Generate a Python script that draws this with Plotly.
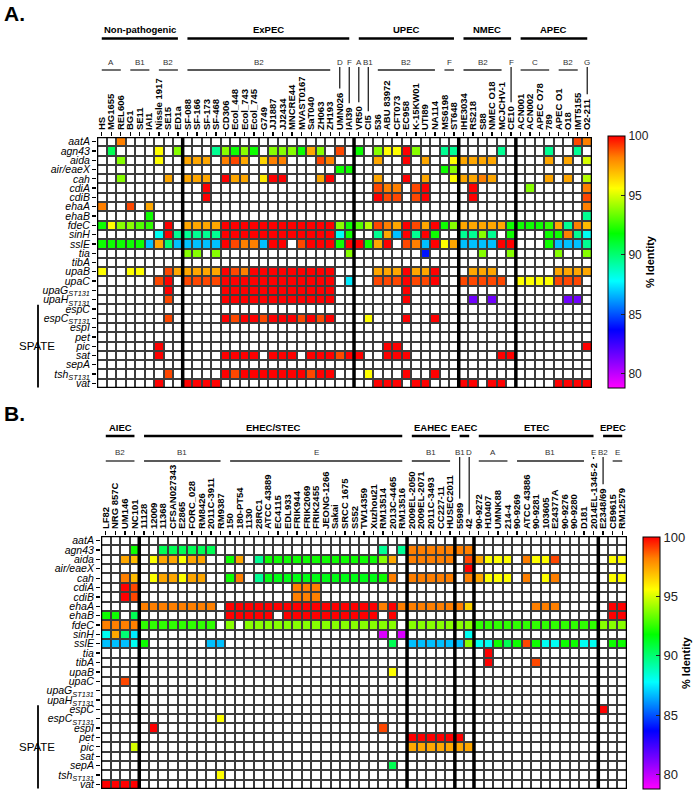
import plotly.graph_objects as go

_ = None
W, H = 696, 792
FONT = "Liberation Sans, Arial, sans-serif"

# ---------------- shared ----------------
genes = ["aatA", "agn43", "aida", "air/eaeX", "cah", "cdiA", "cdiB", "ehaA", "ehaB", "fdeC",
         "sinH", "sslE", "tia", "tibA", "upaB", "upaC", "upaG|ST131", "upaH|ST131", "espC",
         "espC|ST131", "espI", "pet", "pic", "sat", "sepA", "tsh|ST131", "vat"]
colorbar_ticks = [80, 85, 90, 95, 100]
identity_min, identity_max = 78.8, 100

# ---------------- panel A ----------------
strains_a = ["HS", "MG1655", "REL606", "BG1", "SE11", "IAI1", "Nissle 1917", "SE15", "ED1a",
             "SF-088", "SF-166", "SF-173", "SF-468", "CD306", "Ecol_448", "Ecol_743", "Ecol_745", "G749",
             "JJ1887", "JJ2434", "MNCRE44", "MVAST0167", "SaT040", "ZH063", "ZH193", "UMN026", "IAI39",
             "VR50", "CI5", "536", "ABU 83972", "CFT073", "EC958", "K-15KW01", "UTI89", "NA114", "MS6198", "ST648",
             "IHE3034", "RS218", "S88", "NMEC O18", "MCJCHV-1", "CE10",
             "ACN001", "ACN002", "APEC O78", "789", "APEC O1", "O18", "IMT5155", "O2-211"]
groups_a = [("Non-pathogenic", 9), ("ExPEC", 18), ("UPEC", 11), ("NMEC", 6), ("APEC", 8)]
phylo_a = [("A", 3), ("B1", 3), ("B2", 3), ("B2", 16), ("D", 1), ("F", 1), ("A", 1), ("B1", 1),
           ("B2", 7), ("F", 2), ("B2", 5), ("F", 1), ("C", 4), ("B2", 3), ("G", 1)]

A_aatA = [_,_,98.2,_,_,_,_,_,_, _,_,_,_,_,_,_,_,_,_,_,_,_,_,_,_,_,_, _,_,_,_,_,_,_,_,_,_,_, _,_,_,_,_,_, _,_,_,_,_,_,99,98.2]
A_agn43 = [_,90.5,_,_,_,_,95.6,_,93.8, _,_,_,89.5,93.8,92,93.8,92,_,93.8,93.8,93.8,92,97.4,93.8,_,99,_, 92,_,93.8,95.6,95.6,100,93.8,_,_,89.5,89.5, _,_,_,_,89.5,_, _,_,_,89.5,_,_,89.5,_]
A_aida = [_,_,93.8,_,_,_,95.6,_,_, 97.4,97.4,97.4,_,98.2,99,97.4,_,96.5,98.2,98.2,_,_,_,99,98.2,_,_, _,_,97.4,_,_,100,_,97.4,_,_,95.6, 97.4,97.4,97.4,97.4,_,_, _,_,_,97.4,_,97.4,_,95]
A_air = [_,_,_,_,_,_,_,_,_, _,_,_,_,_,_,_,_,_,_,_,_,_,_,_,_,92,92, _,_,_,_,_,_,_,_,_,92,93.8, _,_,_,_,_,_, _,_,_,_,_,_,_,_]
A_cah = [_,_,93.8,_,_,_,_,97.4,_, 97.4,97.4,97.4,_,100,97.4,97.4,_,96,100,100,_,_,_,97.4,100,_,_, _,_,97.4,_,_,100,_,97.4,_,_,95.6, 97.4,97.4,98.2,97.4,_,_, _,_,_,97.4,_,97.4,_,94.5]
A_cdiA = [_,_,_,_,_,_,_,_,_, _,_,100,_,_,_,_,_,_,_,_,_,_,_,_,_,_,_, _,_,99,98.2,98.2,_,99,100,_,_,_, _,100,_,_,_,_, _,93.8,_,_,_,_,_,98.2]
A_cdiB = [_,_,_,_,_,_,_,_,_, _,_,100,_,_,_,_,_,_,_,_,_,_,_,_,_,_,_, _,_,100,99,99,_,99,100,_,_,_, _,100,_,_,_,_, _,_,_,_,_,_,_,99]
A_ehaA = [98.2,_,_,99,_,97.4,_,_,_, _,_,_,_,_,_,_,_,_,_,_,_,_,_,_,_,_,_, _,_,_,_,_,_,_,_,_,_,_, _,_,_,_,_,_, _,_,_,_,_,_,_,98.2]
A_ehaB = [_,_,_,_,_,92,_,_,_, _,_,_,_,_,_,_,_,_,_,_,_,_,_,_,_,_,_, _,_,_,_,_,_,_,_,_,_,_, _,_,_,_,_,_, _,_,_,_,_,_,_,89.5]
A_fdeC = [92,95.6,93.8,93.8,93,92.5,_,100,_, 97.4,97.4,97.4,97.4,100,100,100,100,100,100,100,100,100,100,100,100,93.8,92, 93,94.5,99,98.2,97.4,100,99,97.4,100,92,93.8, 97.4,97.4,97.4,97.4,97.4,92, 92,92,92,92.5,97.4,89.5,98.2,97]
A_sinH = [_,_,_,_,_,_,88,100,89.5, 89.5,89.5,89.5,89.5,100,100,100,100,100,100,100,100,100,100,100,100,88,92, _,_,89.5,97.4,86.8,100,89.5,100,92,_,_, 89.5,89.5,93.8,89.5,_,92, _,_,_,92,92,98.2,89.5,88]
A_sslE = [92,92,92,92,92,86.8,97.4,90,86.8, 86.8,86.8,86.8,86.8,100,99,98.2,98.2,86.8,100,100,_,99,100,100,100,92,100, 100,92,97.4,100,_,99,98.2,86.8,100,95.6,97.4, 86.8,86.8,86.8,86.8,100,100, _,_,_,92,86.8,86.8,86.8,89.5]
A_tia = [_,_,_,_,_,_,_,_,_, 93.8,93.8,_,93.8,_,_,_,_,_,_,_,_,_,_,_,_,_,93.8, _,_,_,_,_,_,_,84,_,_,_, _,_,93.8,_,_,93.8, _,_,_,_,93.8,_,_,93.8]
A_tibA = [_,_,_,_,_,_,_,_,_, _,_,_,_,_,_,_,_,_,_,_,_,_,_,_,_,_,_, _,_,_,_,_,_,_,_,_,_,_, _,_,_,_,_,_, _,_,_,_,_,_,_,_]
A_upaB = [95.6,_,_,95.6,95.6,_,_,99,97.4, 97.4,97.4,97.4,97.4,100,99,98.2,100,100,100,100,100,100,100,100,100,_,_, _,_,97.4,97.4,97.4,100,97.4,97.4,100,_,_, _,97.4,97.4,97.4,_,_, _,_,_,_,97.4,97.4,97.4,97.4]
A_upaC = [_,_,_,_,_,_,99,100,_, 99,99,99,99,100,100,100,100,100,100,100,100,100,100,100,100,_,87.5, _,_,99,99,99,100,99,99,100,_,_, 99,99,99,99,99,_, 95.6,95.6,95.6,95.6,99,99,99,_]
A_upaG = [_,_,_,_,_,_,_,100,_, _,_,_,_,100,100,100,100,100,100,100,100,100,100,100,100,_,_, _,_,_,_,_,100,_,_,_,_,_, _,_,_,_,_,_, _,_,_,_,_,_,_,_]
A_upaH = [_,_,_,_,_,_,_,99,_, _,_,_,_,100,100,100,100,100,100,100,100,100,100,100,100,_,_, _,_,_,_,_,100,_,_,_,_,_, _,81.5,_,81.5,_,_, _,_,_,_,_,81.5,81.5,_]
A_espC = [_,_,_,_,_,_,_,_,_, _,_,_,_,_,_,_,_,_,_,_,_,_,_,_,_,_,_, _,_,_,_,_,_,_,_,_,_,_, _,_,_,_,_,_, _,_,_,_,_,_,_,_]
A_espC_st = [_,_,_,_,_,_,_,99,_, _,_,_,_,100,99,100,100,99,100,100,100,99,100,99,100,_,_, _,95.6,_,_,_,100,_,_,100,_,_, _,_,_,_,_,_, _,_,_,_,_,_,_,_]
A_espI = [_,_,_,_,_,_,_,_,_, _,_,_,_,_,_,_,_,_,_,_,_,_,_,_,_,_,_, _,_,_,_,_,_,_,_,_,_,_, _,_,_,_,_,_, _,_,_,_,_,_,_,_]
A_pet = [_,_,_,_,_,_,_,_,_, _,_,_,_,_,_,_,_,_,_,_,_,_,_,_,_,_,_, _,_,_,_,_,_,_,_,_,_,_, _,_,_,_,_,_, _,_,_,_,_,_,_,_]
A_pic = [_,_,_,_,_,_,100,_,_, _,_,_,_,_,_,_,_,_,_,_,_,_,_,_,_,_,_, _,_,_,100,100,_,_,_,_,_,_, _,_,_,_,_,_, _,_,_,_,_,_,_,100]
A_sat = [_,_,_,_,_,_,100,_,_, _,_,_,_,100,100,100,100,_,100,100,100,_,100,100,100,99,100, 100,_,_,100,100,100,_,_,_,_,_, _,_,_,_,100,100, _,_,_,_,_,_,_,_]
A_sepA = [_,_,_,_,_,_,_,_,_, _,_,_,_,_,_,_,_,_,_,_,_,_,_,_,_,_,_, _,_,_,_,_,_,_,_,_,_,_, _,_,_,_,_,_, _,_,_,_,_,_,_,_]
A_tsh = [_,_,_,_,_,_,_,99,_, _,_,_,_,100,99,100,100,100,100,100,100,100,99,100,100,_,_, _,95.6,_,_,_,100,_,_,100,_,_, _,_,_,_,_,_, _,_,_,_,_,_,_,_]
A_vat = [_,_,_,_,_,_,100,_,_, 100,100,100,100,_,_,_,_,_,_,_,_,_,_,_,_,_,_, _,_,100,100,100,_,100,100,_,_,_, 100,100,_,100,100,_, _,_,_,_,100,100,100,100]

# ---------------- panel B ----------------
strains_b = ["LF82", "NRG 857C", "UM146", "NC101",
             "11128", "12009", "11368", "CFSAN027343", "E2865", "FORC_028", "RM8426", "2011C-3911", "RM9387",
             "150", "180-PT54", "1130", "28RC1", "ATCC 43889", "EC4115", "EDL933", "FRIK944", "FRIK2069",
             "FRIK2455", "JEONG-1266", "Sakai", "SRCC 1675", "SS52", "TW14359", "Xuzhou21", "RM13514",
             "2013C-4465", "RM13516",
             "2009EL-2050", "2009EL-2071", "2011C-3493", "CC227-11", "HUSEC2011",
             "55989", "42",
             "90-9272", "H10407", "UMNK88", "214-4", "90-9269", "ATCC 43886", "90-9281", "103605", "E24377A",
             "90-9276", "90-9280", "D181", "2014EL-1345-2",
             "E2348/69", "CB9615", "RM12579"]
groups_b = [("AIEC", 4), ("EHEC/STEC", 28), ("EAHEC", 5), ("EAEC", 2), ("ETEC", 13), ("EPEC", 3)]
phylo_b = [("B2", 4), ("B1", 9), ("E", 19), ("B1", 5), ("B1", 1), ("D", 1), ("A", 4), ("B1", 8),
           ("E", 1), ("B2", 1), ("E", 2)]

B_aatA = [_,_,_,_, _,_,_,_,_,_,_,_,_, _,_,_,_,_,_,_,_,_,_,_,_,_,_,_,_,_,_,_, _,_,_,_,_, _,_, _,_,_,_,_,_,_,_,_,_,_,_,_, _,_,_]
B_agn43 = [_,_,_,92, _,_,90.5,90.5,90.5,90.5,90.5,90.5,_, _,_,_,_,_,_,_,_,_,_,_,_,_,_,_,_,89.5,_,89.5, 98.2,98.2,98.2,98.2,98.2, 98.2,98.2, _,_,_,_,_,_,_,_,_,_,_,_,_, _,_,_]
B_aida = [_,_,97.4,97, _,95.6,97.4,97.4,95.6,97.4,97.4,_,_, 92,97.4,_,89.5,92,92,92,92,92,92,92,92,92,92,92,92,93.8,97.4,_, 98.2,98.2,98.2,98.2,98.2, _,99, 97.4,95.6,95.6,95.6,_,98.2,95.6,95.6,99,_,_,_,_, _,95.6,95.6]
B_air = [_,_,_,_, _,_,_,_,_,_,_,_,_, _,_,_,_,_,_,_,_,_,_,_,_,_,_,_,_,_,_,_, _,_,_,_,_, _,100, _,_,_,_,_,_,_,_,_,_,_,_,_, _,_,_]
B_cah = [_,_,98.2,97, _,95.6,97.4,97.4,95.6,97.4,97.4,_,_, 92,98.2,_,89.5,91.5,91.5,91.5,91.5,91.5,91.5,91.5,91.5,91.5,91.5,91.5,91.5,92,98.2,_, 98.2,98.2,98.2,98.2,98.2, _,98.2, 97.4,95.6,95.6,95.6,_,98.2,_,95.6,98.2,_,_,_,_, _,95.6,95.6]
B_cdiA = [_,_,100,99, _,_,_,_,_,_,_,_,_, _,_,_,_,_,_,_,98.2,98.2,98.2,_,_,_,_,_,_,_,_,_, _,_,_,_,_, _,_, _,_,_,_,_,_,_,_,_,_,_,_,_, _,_,_]
B_cdiB = [_,_,100,99, _,_,_,_,_,_,_,_,_, _,_,_,_,_,_,_,98.2,98.2,98.2,_,_,_,_,_,_,_,_,_, _,_,_,_,_, _,_, _,_,_,_,_,_,_,_,_,_,_,_,_, _,_,_]
B_ehaA = [_,_,_,_, 98.2,98.2,98.2,98.2,98.2,98.2,98.2,98.2,_, 100,100,100,100,100,100,100,100,100,100,100,100,100,100,100,100,98.2,100,98.2, 98.2,98.2,98.2,98.2,98.2, 98.2,96.5, _,_,_,_,_,_,98.2,98.2,98.2,_,_,_,_, _,100,100]
B_ehaB = [92,92,_,90.5, _,_,_,_,_,_,_,_,_, 100,100,100,100,100,_,100,100,100,100,100,100,100,100,100,100,_,100,_, _,_,_,_,_, _,_, _,_,_,_,_,_,_,_,_,_,_,_,_, _,100,100]
B_fdeC = [98.2,98.2,98.2,98.2, 92.5,92.5,92.5,92.5,92.5,92.5,92.5,92.5,_, 93.8,_,93.8,93.8,93.8,93.8,93.8,93.8,93.8,93.8,93.8,93.8,93.8,93.8,93.8,93.8,93.8,93.8,_, 93.8,93.8,93.8,93.8,93.8, 93.8,93.8, 92.5,92.5,92.5,92.5,92.5,92.5,92.5,92.5,92.5,92.5,92.5,92.5,92.5, 93.8,93.8,93.8]
B_sinH = [88,97.4,90,87.5, _,_,_,_,_,_,_,_,_, _,_,_,_,_,_,_,_,_,_,_,_,_,_,_,_,79.5,_,79.5, _,_,_,_,_, _,88, _,_,_,_,_,_,_,_,_,_,_,_,_, _,_,_]
B_sslE = [86.8,86.8,86.8,88, 92,_,_,_,_,_,_,86.8,86.8, _,_,_,_,_,_,_,_,_,_,_,_,_,_,_,_,_,90.5,_, 86.8,86.8,86.8,86.8,86.8, 86.8,93.8, 88,88,92,90.5,92,99,92,88,88,92,92,88,88, _,92,92]
B_tia = [_,_,_,_, _,_,_,_,_,_,_,_,_, _,_,_,_,_,_,_,_,_,_,_,_,_,_,_,_,_,_,_, _,_,_,_,_, _,_, _,100,_,_,_,_,_,_,_,_,_,_,_, _,_,_]
B_tibA = [_,_,_,_, _,_,_,_,_,_,_,_,_, _,_,_,_,_,_,_,_,_,_,_,_,_,_,_,_,_,_,_, _,_,_,_,_, _,_, _,100,_,_,_,_,99,_,_,_,_,_,_, _,_,_]
B_upaB = [_,_,_,_, _,_,_,_,_,_,_,_,_, _,_,_,_,_,_,_,_,_,_,_,_,_,_,_,_,_,95.6,_, _,_,_,_,_, _,_, _,_,_,_,_,_,_,_,_,_,_,_,_, _,_,_]
B_upaC = [_,_,99,_, _,_,_,_,_,_,_,_,_, _,_,_,_,_,_,_,_,_,_,_,_,_,_,_,_,_,_,_, _,_,_,_,_, _,_, _,_,_,_,_,_,_,_,_,_,_,_,_, _,_,_]
B_upaG = [_,_,_,_, _,_,_,_,_,_,_,_,_, _,_,_,_,_,_,_,_,_,_,_,_,_,_,_,_,_,_,_, _,_,_,_,_, _,_, _,_,_,_,_,_,_,_,_,_,_,_,_, _,_,_]
B_upaH = [_,_,_,_, _,_,_,_,_,_,_,_,_, _,_,_,_,_,_,_,_,_,_,_,_,_,_,_,_,_,_,_, _,_,_,_,_, _,_, _,_,_,_,_,_,_,_,_,_,_,_,_, _,_,_]
B_espC = [_,_,_,_, _,_,_,_,_,_,_,_,_, _,_,_,_,_,_,_,_,_,_,_,_,_,_,_,_,_,_,_, _,_,_,_,_, _,_, _,_,_,_,_,_,_,_,_,_,_,_,_, 100,_,_]
B_espC_st = [_,_,_,_, _,_,_,_,_,_,_,_,95.6, _,_,_,_,_,_,_,_,_,_,_,_,_,_,_,_,_,_,_, _,_,_,_,_, _,_, _,_,_,_,_,_,_,_,_,_,_,_,_, _,_,_]
B_espI = [_,_,_,_, _,100,_,_,_,_,_,_,_, _,_,_,_,_,_,_,_,_,_,_,_,_,_,_,_,99,_,_, _,_,_,_,_, _,_, _,_,_,_,_,_,_,_,_,_,_,_,_, _,_,_]
B_pet = [_,_,_,_, _,_,_,_,_,_,_,_,_, _,_,_,_,_,_,_,_,_,_,_,_,_,_,_,_,_,_,_, 100,100,100,100,100, 100,_, _,_,_,_,_,_,_,_,_,_,_,_,_, _,_,_]
B_pic = [_,_,_,95, _,_,_,_,_,_,_,_,_, _,_,_,_,_,_,_,_,_,_,_,_,_,_,_,_,_,_,_, 97.4,97.4,97.4,97.4,97.4, 97.4,97.4, _,_,_,_,_,_,_,_,_,_,_,_,_, _,_,_]
B_sat = [_,_,_,_, _,_,_,_,_,_,_,_,_, _,_,_,_,_,_,_,_,_,_,_,_,_,_,_,_,_,_,_, _,_,_,_,_, _,_, _,_,_,_,_,_,_,_,_,_,_,_,_, _,_,_]
B_sepA = [_,_,_,_, _,_,_,_,_,_,_,_,_, _,_,_,_,_,_,_,_,_,_,_,_,_,_,_,_,_,90.5,_, _,_,_,_,_, _,_, _,_,_,_,_,_,_,_,_,_,_,_,_, _,_,_]
B_tsh = [_,_,_,_, _,_,_,_,_,_,_,_,95.6, _,_,_,_,_,_,_,_,_,_,_,_,_,_,_,_,_,_,_, _,_,_,_,_, _,_, _,_,_,_,_,_,_,_,_,_,_,_,_, _,_,_]
B_vat = [100,100,100,100, _,_,_,_,_,_,_,_,_, _,_,_,_,_,_,_,_,_,_,_,_,_,_,_,_,_,_,_, _,_,_,_,_, _,_, _,_,_,_,_,_,_,_,_,_,_,_,_, _,_,_]

rows_a = [A_aatA, A_agn43, A_aida, A_air, A_cah, A_cdiA, A_cdiB, A_ehaA, A_ehaB, A_fdeC, A_sinH,
          A_sslE, A_tia, A_tibA, A_upaB, A_upaC, A_upaG, A_upaH, A_espC, A_espC_st, A_espI, A_pet,
          A_pic, A_sat, A_sepA, A_tsh, A_vat]
rows_b = [B_aatA, B_agn43, B_aida, B_air, B_cah, B_cdiA, B_cdiB, B_ehaA, B_ehaB, B_fdeC, B_sinH,
          B_sslE, B_tia, B_tibA, B_upaB, B_upaC, B_upaG, B_upaH, B_espC, B_espC_st, B_espI, B_pet,
          B_pic, B_sat, B_sepA, B_tsh, B_vat]

# ---------------- helpers ----------------
def px(x):
    return x / W

def py(y):
    return 1 - y / H

_CW = {**{c: 0.556 for c in "0123456789"}, " ": 0.278, "-": 0.333, "_": 0.556, "/": 0.278, ".": 0.278,
       "A": .722, "B": .722, "C": .722, "D": .722, "E": .667, "F": .611, "G": .778, "H": .722, "I": .278,
       "J": .556, "K": .722, "L": .611, "M": .833, "N": .722, "O": .778, "P": .667, "Q": .778, "R": .722,
       "S": .667, "T": .611, "U": .722, "V": .667, "W": .944, "X": .667, "Y": .667, "Z": .611}

def text_w(s, size):
    return sum(_CW.get(c, 0.556 if c not in "iljft" else 0.3) for c in s) * size

def gene_label(g):
    if "|" in g:
        a, b = g.split("|")
        return f"<i>{a}<sub>{b}</sub></i>"
    return f"<i>{g}</i>"

colorscale = [
    [0.0, "#ff00ff"],
    [(81.0 - identity_min) / (identity_max - identity_min), "#8a00ff"],
    [(83.7 - identity_min) / (identity_max - identity_min), "#0000ff"],
    [(87.8 - identity_min) / (identity_max - identity_min), "#00ffff"],
    [(91.8 - identity_min) / (identity_max - identity_min), "#00ff00"],
    [(95.6 - identity_min) / (identity_max - identity_min), "#ffff00"],
    [(98.2 - identity_min) / (identity_max - identity_min), "#ff8000"],
    [1.0, "#ff0000"],
]

fig = go.Figure()
shapes = []
annots = []

LABEL_SIZE = 9.5
panels = [
    dict(name="A.", strains=strains_a, rows=rows_a, groups=groups_a, phylo=phylo_a, xa="x", ya="y",
         left=97, right=592, top=137, bottom=388, cb_x=608, cb_top=136, cb_bot=388, cb_font=12,
         g_text=30, g_line=38.5, p_text=62, p_line=70, title_y=14),
    dict(name="B.", strains=strains_b, rows=rows_b, groups=groups_b, phylo=phylo_b, xa="x2", ya="y2",
         left=101, right=627, top=536, bottom=789, cb_x=643, cb_top=537, cb_bot=789, cb_font=13,
         g_text=427, g_line=436, p_text=452, p_line=461, title_y=413),
]

ng = len(genes)
for i, p in enumerate(panels):
    n = len(p["strains"])
    xs = list(range(n))
    ys = list(range(ng))
    fig.add_trace(go.Heatmap(
        z=[[0] * n for _r in range(ng)], x=xs, y=ys, xaxis=p["xa"], yaxis=p["ya"],
        colorscale=[[0, "white"], [1, "white"]], showscale=False, xgap=2, ygap=2, hoverinfo="skip"))
    fig.add_trace(go.Heatmap(
        z=p["rows"], x=xs, y=ys, xaxis=p["xa"], yaxis=p["ya"],
        zmin=identity_min, zmax=identity_max, colorscale=colorscale, xgap=2, ygap=2,
        hoverongaps=False,
        colorbar=dict(
            x=px(p["cb_x"]), xanchor="left", xpad=0, ypad=0,
            y=py(p["cb_top"]), yanchor="top", len=(p["cb_bot"] - p["cb_top"]) / H, lenmode="fraction",
            thickness=17, thicknessmode="pixels", outlinewidth=1, outlinecolor="black",
            tickvals=colorbar_ticks, ticks="inside", ticklen=4, tickcolor="#222",
            tickfont=dict(family=FONT, size=p["cb_font"], color="#222"),
            title=dict(text="<b>% Identity</b>", side="right",
                       font=dict(family=FONT, size=11, color="black")),
        )))
    axsuffix = "" if i == 0 else "2"
    fig.update_layout(**{
        "xaxis" + axsuffix: dict(
            domain=[px(p["left"]), px(p["right"])], anchor=p["ya"], side="top",
            range=[-0.5, n - 0.5], tickmode="array", tickvals=xs,
            ticktext=[f"<b>{s}</b>" for s in p["strains"]],
            tickangle=-90, ticks="outside", ticklen=4, tickwidth=1.3, tickcolor="black",
            tickfont=dict(family=FONT, size=LABEL_SIZE, color="black"),
            showgrid=False, zeroline=False, showline=False, automargin=False, fixedrange=True),
        "yaxis" + axsuffix: dict(
            domain=[py(p["bottom"]), py(p["top"])], anchor=p["xa"],
            range=[ng - 0.5, -0.5], tickmode="array", tickvals=ys,
            ticktext=[gene_label(g) for g in genes],
            ticks="outside", ticklen=4, tickwidth=1.3, tickcolor="black",
            tickfont=dict(family=FONT, size=10.5, color="black"),
            showgrid=False, zeroline=False, showline=False, automargin=False, fixedrange=True),
    })
    xr = p["xa"]
    yr = p["ya"]
    # outer frame
    shapes.append(dict(type="rect", xref=xr, yref=yr, x0=-0.5, x1=n - 0.5, y0=-0.5, y1=ng - 0.5,
                       line=dict(color="black", width=2.5)))
    # group separators + group headers
    start = 0
    for gi, (gname, gn) in enumerate(p["groups"]):
        if gi > 0:
            shapes.append(dict(type="line", xref=xr, yref=yr, x0=start - 0.5, x1=start - 0.5,
                               y0=-0.5, y1=ng - 0.5, line=dict(color="black", width=3.5)))
        annots.append(dict(xref=xr, yref="paper", x=start + (gn - 1) / 2, y=py(p["g_text"]),
                           text=f"<b>{gname}</b>", showarrow=False, yanchor="middle",
                           font=dict(family=FONT, size=9.5, color="black")))
        shapes.append(dict(type="line", xref=xr, yref="paper", x0=start, x1=start + gn - 1,
                           y0=py(p["g_line"]), y1=py(p["g_line"]), line=dict(color="black", width=2.5)))
        start += gn
    # phylogroups
    start = 0
    label_bottom = p["top"] - 6
    for (ph, pn) in p["phylo"]:
        annots.append(dict(xref=xr, yref="paper", x=start + (pn - 1) / 2, y=py(p["p_text"]),
                           text=ph, showarrow=False, yanchor="middle",
                           font=dict(family=FONT, size=8, color="#333")))
        if pn > 1:
            shapes.append(dict(type="line", xref=xr, yref="paper", x0=start, x1=start + pn - 1,
                               y0=py(p["p_line"]), y1=py(p["p_line"]), line=dict(color="#222", width=1.3)))
        else:
            ltop = label_bottom - text_w(p["strains"][start], LABEL_SIZE) - 5
            shapes.append(dict(type="line", xref=xr, yref="paper", x0=start, x1=start,
                               y0=py(p["p_text"] + 5), y1=py(ltop), line=dict(color="#222", width=1.3)))
        start += pn
    # SPATE bracket
    shapes.append(dict(type="line", xref="paper", yref=yr, x0=px(38), x1=px(38),
                       y0=genes.index("espC") - 0.45, y1=ng - 0.55, line=dict(color="black", width=1.8)))
    annots.append(dict(xref="paper", yref=yr, x=px(17), y=(genes.index("espC") + ng - 1) / 2,
                       text="SPATE", showarrow=False, font=dict(family=FONT, size=11.5, color="black")))
    # panel letter
    annots.append(dict(xref="paper", yref="paper", x=px(2), y=py(p["title_y"]), xanchor="left",
                       yanchor="middle", text=f"<b>{p['name']}</b>", showarrow=False,
                       font=dict(family=FONT, size=21, color="black")))

fig.update_layout(
    width=W, height=H, margin=dict(l=0, r=0, t=0, b=0, pad=0, autoexpand=False), autosize=False,
    paper_bgcolor="white", plot_bgcolor="#3c3c3c",
    font=dict(family=FONT, color="black"),
    shapes=shapes, annotations=annots, showlegend=False, hovermode=False,
)

fig.write_html("out.html", config={"displayModeBar": False, "staticPlot": True},
               post_script="document.body.style.margin='0px';document.body.style.padding='0px';")
